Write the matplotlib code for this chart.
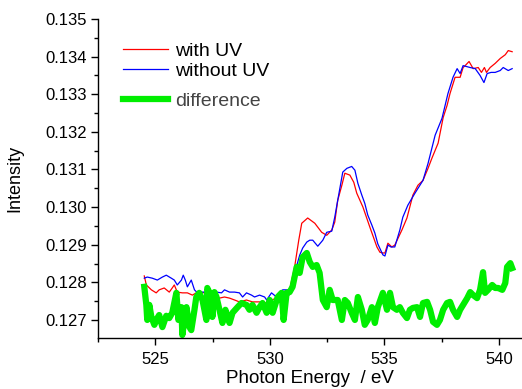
import matplotlib
matplotlib.use("Agg")
import matplotlib.pyplot as plt
from matplotlib.ticker import MultipleLocator, FormatStrFormatter

plt.rcParams['font.family'] = ['Liberation Sans', 'DejaVu Sans']

# with UV (red)
red_x = [524.52, 524.61, 524.83, 525.04, 525.17, 525.39, 525.61, 525.74, 525.83, 525.96,
         526.18, 526.40, 526.62, 526.79, 526.92, 527.14, 527.36, 527.58, 527.80, 528.02,
         528.24, 528.46, 528.67, 528.98, 529.24, 529.55, 529.86, 530.07, 530.29, 530.56,
         530.86, 531.08, 531.26, 531.39, 531.65, 531.96, 532.26, 532.48, 532.70, 532.83,
         532.96, 533.14, 533.27, 533.49, 533.66, 533.79, 534.06, 534.36, 534.67, 534.80,
         534.93, 535.02, 535.15, 535.32, 535.45, 535.76, 535.98, 536.24, 536.46, 536.68,
         536.90, 537.07, 537.34, 537.56, 537.73, 537.86, 538.08, 538.30, 538.43, 538.52,
         538.69, 538.87, 539.09, 539.23, 539.36, 539.45, 539.61, 539.83, 540.05, 540.27,
         540.40, 540.57]
red_y = [0.12817, 0.12793, 0.12780, 0.12772, 0.12780, 0.12785, 0.12774, 0.12785, 0.12793, 0.12774,
         0.12772, 0.12772, 0.12766, 0.12772, 0.12774, 0.12772, 0.12766, 0.12766, 0.12758, 0.12761,
         0.12758, 0.12753, 0.12748, 0.12753, 0.12748, 0.12748, 0.12745, 0.12753, 0.12758, 0.12774,
         0.12780, 0.12841, 0.12912, 0.12957, 0.12971, 0.12957, 0.12933, 0.12925, 0.12939, 0.12960,
         0.13018, 0.13058, 0.13090, 0.13085, 0.13066, 0.13037, 0.13000, 0.12947, 0.12894, 0.12880,
         0.12878, 0.12878, 0.12904, 0.12894, 0.12899, 0.12939, 0.12971, 0.13032, 0.13058, 0.13071,
         0.13103, 0.13130, 0.13170, 0.13238, 0.13270, 0.13302, 0.13345, 0.13345, 0.13371, 0.13376,
         0.13387, 0.13368, 0.13371, 0.13358, 0.13371, 0.13358, 0.13371, 0.13382, 0.13395, 0.13405,
         0.13416, 0.13413]

# without UV (blue)
blue_x = [524.52, 524.65, 524.87, 525.09, 525.31, 525.48, 525.70, 525.83, 525.96, 526.14,
          526.22, 526.31, 526.40, 526.57, 526.71, 526.84, 527.01, 527.23, 527.45, 527.67,
          527.89, 528.02, 528.24, 528.46, 528.67, 528.81, 528.98, 529.20, 529.33, 529.55,
          529.77, 529.86, 530.07, 530.29, 530.56, 530.86, 531.08, 531.30, 531.43, 531.61,
          531.74, 531.87, 532.09, 532.31, 532.48, 532.70, 532.83, 532.96, 533.18, 533.36,
          533.57, 533.71, 533.84, 534.01, 534.14, 534.27, 534.45, 534.58, 534.71, 534.93,
          535.02, 535.15, 535.28, 535.45, 535.67, 535.80, 536.02, 536.33, 536.68, 536.90,
          537.21, 537.51, 537.77, 537.99, 538.17, 538.30, 538.43, 538.74, 538.96, 539.17,
          539.34, 539.48, 539.65, 539.83, 540.05, 540.18, 540.40, 540.57]
blue_y = [0.12811, 0.12814, 0.12811, 0.12806, 0.12814, 0.12819, 0.12811, 0.12806, 0.12793, 0.12806,
          0.12819, 0.12806, 0.12788, 0.12806, 0.12780, 0.12772, 0.12774, 0.12774, 0.12772, 0.12774,
          0.12772, 0.12780, 0.12774, 0.12774, 0.12772, 0.12761, 0.12772, 0.12766, 0.12761, 0.12766,
          0.12761, 0.12753, 0.12772, 0.12761, 0.12780, 0.12780, 0.12825, 0.12872, 0.12891, 0.12907,
          0.12912, 0.12912, 0.12896, 0.12912, 0.12933, 0.12936, 0.12973, 0.13018, 0.13093, 0.13103,
          0.13108, 0.13098, 0.13063, 0.13032, 0.13010, 0.12979, 0.12952, 0.12931, 0.12902, 0.12873,
          0.12870, 0.12899, 0.12894, 0.12894, 0.12939, 0.12973, 0.13005, 0.13037, 0.13071, 0.13116,
          0.13191, 0.13236, 0.13302, 0.13345, 0.13368, 0.13355, 0.13376, 0.13371, 0.13368, 0.13350,
          0.13331, 0.13355, 0.13358, 0.13358, 0.13363, 0.13371, 0.13363, 0.13368]

# difference (green)
diff_x = [524.52, 524.61, 524.65, 524.74, 524.83, 524.96, 525.09, 525.17, 525.31, 525.48,
          525.61, 525.74, 525.92, 526.01, 526.14, 526.18, 526.27, 526.36, 526.49, 526.57,
          526.71, 526.79, 526.92, 527.06, 527.23, 527.27, 527.45, 527.49, 527.58, 527.67,
          527.80, 527.93, 528.06, 528.15, 528.24, 528.37, 528.59, 528.76, 528.98, 529.11,
          529.24, 529.42, 529.55, 529.68, 529.86, 529.99, 530.12, 530.34, 530.51, 530.60,
          530.73, 530.86, 530.99, 531.17, 531.30, 531.43, 531.61, 531.74, 531.87, 532.04,
          532.17, 532.31, 532.48, 532.61, 532.74, 532.96, 533.14, 533.27, 533.40, 533.57,
          533.71, 533.84, 534.01, 534.14, 534.27, 534.45, 534.58, 534.71, 534.93, 535.11,
          535.24, 535.37, 535.54, 535.67, 535.80, 535.98, 536.11, 536.24, 536.42, 536.55,
          536.68, 536.86, 536.99, 537.12, 537.29, 537.42, 537.56, 537.73, 537.86, 537.99,
          538.17, 538.30, 538.43, 538.61, 538.74, 538.87, 539.04, 539.17, 539.30, 539.39,
          539.52, 539.70, 539.83, 539.96, 540.14, 540.27, 540.35, 540.49, 540.57]
diff_y = [0.12788, 0.12740, 0.12700, 0.12740, 0.12708, 0.12687, 0.12705, 0.12713, 0.12681, 0.12711,
          0.12705, 0.12719, 0.12772, 0.12700, 0.12734, 0.12660, 0.12700, 0.12734, 0.12681, 0.12673,
          0.12727, 0.12761, 0.12772, 0.12753, 0.12700, 0.12785, 0.12761, 0.12708, 0.12774, 0.12761,
          0.12727, 0.12692, 0.12727, 0.12708, 0.12692, 0.12719, 0.12734, 0.12745, 0.12740, 0.12727,
          0.12740, 0.12719, 0.12734, 0.12745, 0.12719, 0.12753, 0.12719, 0.12761, 0.12772, 0.12700,
          0.12772, 0.12774, 0.12788, 0.12841, 0.12825, 0.12867, 0.12878, 0.12854, 0.12841, 0.12846,
          0.12825, 0.12753, 0.12734, 0.12780, 0.12753, 0.12753, 0.12700, 0.12753, 0.12745, 0.12719,
          0.12700, 0.12761, 0.12727, 0.12687, 0.12700, 0.12734, 0.12692, 0.12734, 0.12772, 0.12727,
          0.12772, 0.12734, 0.12727, 0.12734, 0.12719, 0.12705, 0.12727, 0.12732, 0.12734, 0.12708,
          0.12745, 0.12748, 0.12727, 0.12695, 0.12687, 0.12700, 0.12727, 0.12745, 0.12748, 0.12727,
          0.12708, 0.12727, 0.12740, 0.12758, 0.12774, 0.12766, 0.12758, 0.12780, 0.12827, 0.12772,
          0.12780, 0.12793, 0.12785, 0.12785, 0.12780, 0.12798, 0.12841, 0.12851, 0.12838]

fig = plt.figure(figsize=(5.22, 3.89), dpi=100)
ax = fig.add_axes([0.1877, 0.1311, 0.8123, 0.8201])

l_red, = ax.plot(red_x, red_y, color='#ff0000', lw=0.9)
l_blue, = ax.plot(blue_x, blue_y, color='#0000ff', lw=0.9)
l_diff, = ax.plot(diff_x, diff_y, color='#00ee00', lw=4.5, solid_joinstyle='round')

ax.set_xlim(522.5, 541.0)
ax.set_ylim(0.12652, 0.135)
ax.xaxis.set_major_locator(MultipleLocator(5))
ax.xaxis.set_minor_locator(MultipleLocator(2.5))
ax.yaxis.set_major_locator(MultipleLocator(0.001))
ax.yaxis.set_minor_locator(MultipleLocator(0.0005))
ax.yaxis.set_major_formatter(FormatStrFormatter('%.3f'))

for side in ('top', 'right'):
    ax.spines[side].set_visible(False)
for side in ('left', 'bottom'):
    ax.spines[side].set_linewidth(1.0)

ax.tick_params(which='major', direction='out', length=5, width=1, labelsize=12)
ax.tick_params(which='minor', direction='out', length=3, width=1)
ax.tick_params(axis='y', pad=3)
ax.tick_params(axis='x', pad=5)

ax.set_xlabel('Photon Energy  / eV', fontsize=13.5, labelpad=2.5)
ax.set_ylabel('Intensity', fontsize=13, labelpad=16)

legend_kw = dict(loc='upper left', frameon=False, fontsize=14, handlelength=2.32,
                 handletextpad=0.36, labelspacing=0.15, borderaxespad=0, borderpad=0)
leg1 = ax.legend([l_red, l_blue], ['with UV', 'without UV'],
                 bbox_to_anchor=(0.059, 0.928), **legend_kw)
ax.add_artist(leg1)
leg2 = ax.legend([l_diff], ['difference'], bbox_to_anchor=(0.059, 0.771), **legend_kw)
leg2.get_texts()[0].set_color('#444444')

fig.savefig('out.png', dpi=100)
